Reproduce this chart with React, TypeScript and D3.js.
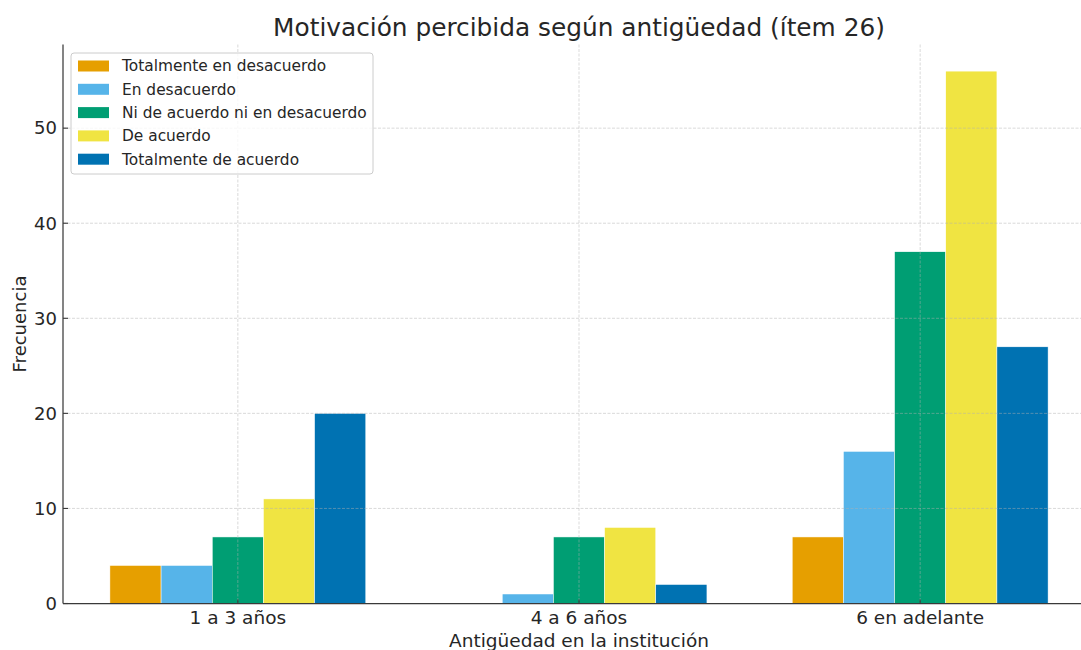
import React from "react";
import * as d3 from "d3";

const categories = ["1 a 3 años", "4 a 6 años", "6 en adelante"];
const seriesNames = [
  "Totalmente en desacuerdo",
  "En desacuerdo",
  "Ni de acuerdo ni en desacuerdo",
  "De acuerdo",
  "Totalmente de acuerdo",
];
const seriesColors = ["#E69F00", "#56B4E9", "#009E73", "#F0E442", "#0072B2"];
const totalDesacuerdo = [4, 0, 7];
const enDesacuerdo = [4, 1, 16];
const niNi = [7, 7, 37];
const deAcuerdo = [11, 8, 56];
const totalAcuerdo = [20, 2, 27];
const seriesValues = [totalDesacuerdo, enDesacuerdo, niNi, deAcuerdo, totalAcuerdo];
const yTicks = [0, 10, 20, 30, 40, 50];

const W = 1081;
const H = 650;
const FONT = "DejaVu Sans, sans-serif";
const TXT = "#262626";

export default function App() {
  const left = 63;
  const right = 1095;
  const top = 44.5;
  const bottom = 603.5;
  const barW = 0.15;
  const x = d3.scaleLinear().domain([-0.5125, 2.5125]).range([left, right]);
  const y = d3.scaleLinear().domain([0, 58.8]).range([bottom, top]);
  const pxBar = x(barW) - x(0);

  return (
    <svg width={W} height={H} style={{ position: "absolute", left: 0, top: 0, background: "#fff" }}>
      <rect x={0} y={0} width={W} height={H} fill="#fff" />
      <text x={579} y={36} textAnchor="middle" fontFamily={FONT} fontSize={24.8} fill={TXT}>
        Motivación percibida según antigüedad (ítem 26)
      </text>
      {/* bars */}
      {seriesValues.map((vals, si) =>
        vals.map((v, ci) => {
          const cx = ci + (si - 2) * barW;
          const x0 = x(cx) - pxBar / 2;
          return v > 0 ? (
            <rect
              key={`${si}-${ci}`}
              x={x0}
              y={y(v)}
              width={pxBar}
              height={y(0) - y(v)}
              fill={seriesColors[si]}
              stroke="#ffffff"
              strokeWidth={0.5}
            />
          ) : null;
        })
      )}
      {/* grid */}
      {yTicks.map((t) => (
        <line key={"gy" + t} x1={left} x2={right} y1={y(t)} y2={y(t)} stroke="#b0b0b0" strokeOpacity={0.6} strokeWidth={0.8} strokeDasharray="3,1.5" />
      ))}
      {categories.map((c, i) => (
        <line key={"gx" + i} x1={x(i)} x2={x(i)} y1={top} y2={bottom} stroke="#b0b0b0" strokeOpacity={0.6} strokeWidth={0.8} strokeDasharray="3,1.5" />
      ))}
      {/* axes */}
      <line x1={left} x2={left} y1={top} y2={bottom} stroke="#3a3a3a" strokeWidth={1.25} />
      <line x1={left} x2={right} y1={bottom} y2={bottom} stroke="#3a3a3a" strokeWidth={1.25} />
      {yTicks.map((t) => (
        <g key={"yt" + t}>
          <line x1={left} x2={left + 5} y1={y(t)} y2={y(t)} stroke="#3a3a3a" strokeWidth={1.1} />
          <text x={left - 6} y={y(t)} dy="0.35em" textAnchor="end" fontFamily={FONT} fontSize={18} fill={TXT}>
            {t}
          </text>
        </g>
      ))}
      {categories.map((c, i) => (
        <g key={"xt" + i}>
          <line x1={x(i)} x2={x(i)} y1={bottom} y2={bottom - 4} stroke="#3a3a3a" strokeWidth={1.1} />
          <text x={x(i)} y={624} textAnchor="middle" fontFamily={FONT} fontSize={18.5} fill={TXT}>
            {c}
          </text>
        </g>
      ))}
      <text x={579} y={647} textAnchor="middle" fontFamily={FONT} fontSize={18.5} fill={TXT}>
        Antigüedad en la institución
      </text>
      <text transform={`translate(26,${(top + bottom) / 2}) rotate(-90)`} textAnchor="middle" fontFamily={FONT} fontSize={18} fill={TXT}>
        Frecuencia
      </text>
      {/* legend */}
      <rect x={71} y={53} width={302} height={121} rx={3} fill="#ffffff" fillOpacity={0.8} stroke="#cccccc" strokeWidth={1} />
      {seriesNames.map((n, i) => {
        const ry = 66 + i * 23.3;
        return (
          <g key={"lg" + i}>
            <rect x={78} y={ry - 5.5} width={31} height={11} fill={seriesColors[i]} />
            <text x={122} y={ry} dy="0.35em" fontFamily={FONT} fontSize={15.4} fill={TXT}>
              {n}
            </text>
          </g>
        );
      })}
    </svg>
  );
}
